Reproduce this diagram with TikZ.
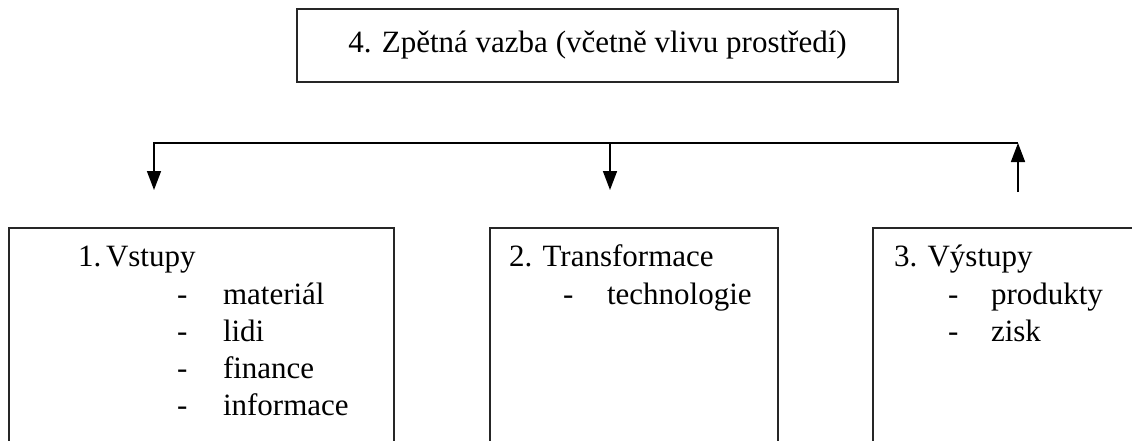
\documentclass[tikz,border=0pt]{standalone}
\usepackage{fontspec}
\setmainfont{Liberation Serif}
\usetikzlibrary{arrows.meta}
\begin{document}
\begin{tikzpicture}[x=1pt,y=-1pt,
  frame/.style={draw=black!85, line width=1.3pt, inner sep=0pt, outer sep=0pt, anchor=north west},
  txt/.style={anchor=base west, inner sep=0pt, outer sep=0pt, font=\fontsize{31}{37}\selectfont},
  bus/.style={line width=1.6pt, line join=miter},
  link/.style={bus, -{Triangle[length=19pt,width=14pt]}}]
\useasboundingbox (0,0) rectangle (1132,441);
\clip (0,0) rectangle (1132,441);

% feedback box
\node[frame, minimum width=601pt, minimum height=73pt] (fb) at (297,9) {};
\node[txt, anchor=base] (fbt) at (597.5,53) {4. Zpětná vazba (včetně vlivu prostředí)};

% the three stages (open towards the bottom of the page)
\node[frame, minimum width=385pt, minimum height=260pt] (in) at (9,228) {};
\node[frame, minimum width=288pt, minimum height=260pt] (tr) at (490,228) {};
\node[frame, minimum width=300pt, minimum height=260pt] (out) at (873,228) {};

% inputs
\node[txt] (inh) at (78,266) {1.};
\node[txt] (inh2) at (106,266) {Vstupy};
\foreach \t [count=\i] in {materiál,lidi,finance,informace}{
  \node[txt] (ind\i) at (177,{267+37*\i}) {-};
  \node[txt] (ini\i) at (223,{267+37*\i}) {\t};
}

% transformation
\node[txt] (trh) at (509,266) {2. Transformace};
\node[txt] (trd1) at (563,304) {-};
\node[txt] (tri1) at (607,304) {technologie};

% outputs
\node[txt] (outh) at (894,266) {3. Výstupy};
\node[txt] (outd1) at (948,304) {-};
\node[txt] (outi1) at (991,304) {produkty};
\node[txt] (outd2) at (948,341) {-};
\node[txt] (outi2) at (991,341) {zisk};

% feedback loop
\coordinate (j1) at (154,143);
\coordinate (j2) at (610,143);
\coordinate (j3) at (1018,143);
\coordinate (e1) at (154,190);
\coordinate (e2) at (610,190);
\coordinate (s3) at (1018,192);

\draw[link] (j3) -- (j1) -- (e1);
\draw[link] (j2) -- (e2);
\draw[link] (s3) -- (j3);
\end{tikzpicture}
\end{document}
